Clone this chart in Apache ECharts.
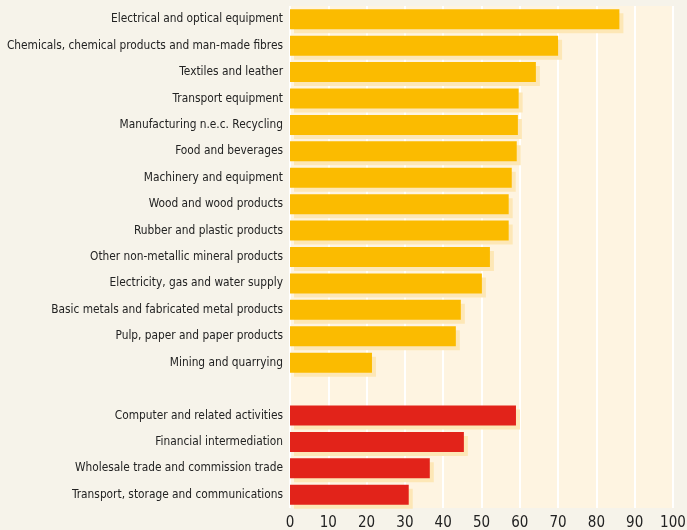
<!DOCTYPE html>
<html>
<head>
<meta charset="utf-8">
<script src="https://cdn.jsdelivr.net/npm/echarts@6/dist/echarts.min.js"></script>
<style>
  html, body { margin: 0; padding: 0; background: #f6f3ea; }
  #chart { width: 687px; height: 530px; }
</style>
</head>
<body>
<div id="chart"></div>
<script>
// Manufacturing industries (yellow) and service sectors (red)
const industryNames = [
  'Electrical and optical equipment',
  'Chemicals, chemical products and man-made fibres',
  'Textiles and leather',
  'Transport equipment',
  'Manufacturing n.e.c. Recycling',
  'Food and beverages',
  'Machinery and equipment',
  'Wood and wood products',
  'Rubber and plastic products',
  'Other non-metallic mineral products',
  'Electricity, gas and water supply',
  'Basic metals and fabricated metal products',
  'Pulp, paper and paper products',
  'Mining and quarrying'
];
const industryValues = [86, 70, 64.2, 59.7, 59.5, 59.2, 57.9, 57.1, 57.1, 52.2, 50.1, 44.6, 43.3, 21.4];

const serviceNames = [
  'Computer and related activities',
  'Financial intermediation',
  'Wholesale trade and commission trade',
  'Transport, storage and communications'
];
const serviceValues = [59.0, 45.4, 36.5, 31.0];

const xTicks = [0, 10, 20, 30, 40, 50, 60, 70, 80, 90, 100];

// one empty row separates the two groups
const categories = [...industryNames, '', ...serviceNames];
const industryData = [...industryValues, '-', ...serviceNames.map(() => '-')];
const serviceData = [...industryNames.map(() => '-'), '-', ...serviceValues];

const font = '"Liberation Sans Narrow", "DejaVu Sans Condensed", sans-serif';
const shadow = { shadowColor: '#fde7b6', shadowOffsetX: 4, shadowOffsetY: 4, shadowBlur: 0 };

const chart = echarts.init(document.getElementById('chart'));
chart.setOption({
  backgroundColor: '#f6f3ea',
  animation: false,
  grid: {
    left: 290, right: 14, top: 6, bottom: 22,
    containLabel: false, outerBoundsMode: 'none',
    show: true, backgroundColor: '#fef4e1', borderWidth: 0
  },
  xAxis: {
    type: 'value', min: xTicks[0], max: xTicks[xTicks.length - 1], interval: 10,
    axisLine: { show: false }, axisTick: { show: false },
    splitLine: { show: true, lineStyle: { color: '#ffffff', width: 2 } },
    axisLabel: { color: '#222', fontFamily: font, fontSize: 15, margin: 8 }
  },
  yAxis: {
    type: 'category', data: categories, inverse: true,
    axisLine: { show: false }, axisTick: { show: false },
    axisLabel: { color: '#222', fontFamily: font, fontSize: 11.8, margin: 7 }
  },
  series: [
    {
      type: 'bar', data: industryData, barWidth: 20, barGap: '-100%',
      itemStyle: Object.assign({ color: '#fbbb00' }, shadow)
    },
    {
      type: 'bar', data: serviceData, barWidth: 20,
      itemStyle: Object.assign({ color: '#e2231a' }, shadow)
    }
  ]
});
</script>
</body>
</html>
